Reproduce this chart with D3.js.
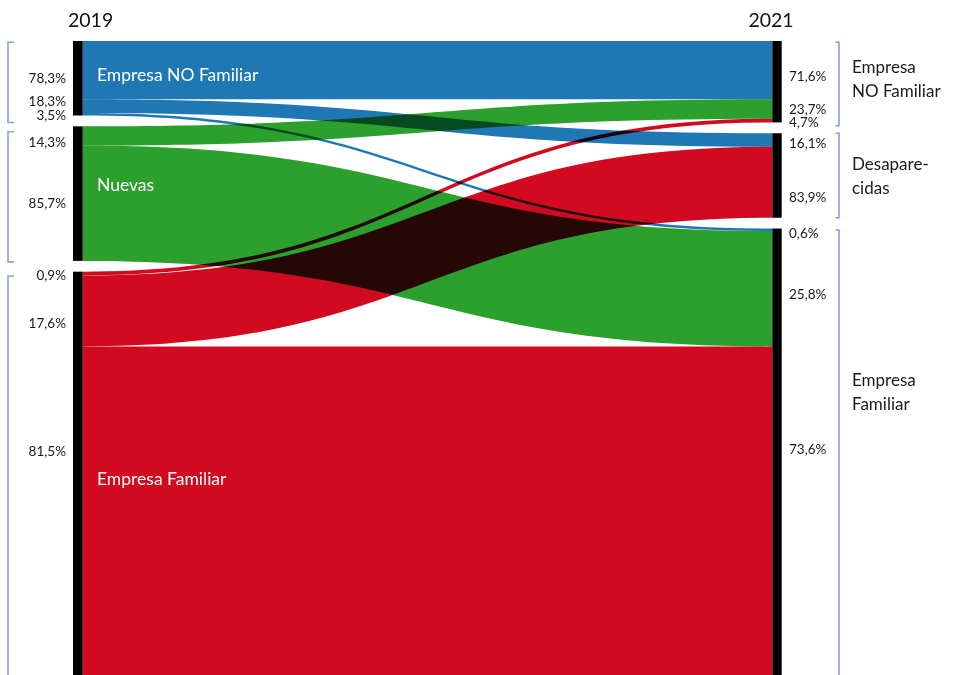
<!DOCTYPE html>
<html>
<head>
<meta charset="utf-8">
<script src="https://cdn.jsdelivr.net/npm/d3@7"></script>
<style>
  html, body { margin: 0; padding: 0; background: #fff; }
  svg { display: block; }
  .flow { mix-blend-mode: multiply; }
</style>
</head>
<body>
<div id="chart"></div>
<script>
// ---- data -------------------------------------------------------------
const years = ["2019", "2021"];
const leftNodes = ["Empresa NO Familiar", "Nuevas", "Empresa Familiar"];
const rightNodes = [["Empresa", "NO Familiar"], ["Desapare-", "cidas"], ["Empresa", "Familiar"]];
// each flow: source (2019 group) -> target (2021 group), number of companies
const flowSource = [0, 0, 0, 1, 1, 2, 2, 2];
const flowTarget = [0, 1, 2, 0, 2, 0, 1, 2];
const flowValue  = [7827, 1826, 347, 2590, 15470, 510, 9516, 44100];

// ---- styling / layout -------------------------------------------------
const W = 953, H = 675;
const plotTop = 41, plotBottom = 675, gap = 10.8;
const leftBar = { x: 73, w: 9.7 };
const rightBar = { x: 772.3, w: 9.4 };
const nodeColors = ["#1f77b4", "#2ca02c", "#d20a20"];
const bracketColor = "#7ea6dc";
const font = "Lato, 'Open Sans', sans-serif";
// vertical nudges (px) of the percentage labels, per flow
const leftLabelDy = [8, -4.5, 0.5, 5.7, 0, 2, 12, -60];
const rightLabelDy = [5.5, 3, 3, 0, 5, 1.5, 15, -62];
const innerLabelDy = [-4, -8.6, 5];
const groupLabelDy = [-3, 0, -60];
const leftBracketPad = [[1.3, 7], [5.4, 1], [4.3, 20]];
const rightBracketPad = [[1.3, 3.3], [0, 0], [1.5, 20]];

const links = flowValue.map((v, i) => ({ i, value: v, s: flowSource[i], t: flowTarget[i] }));
const total = d3.sum(flowValue);
const y = d3.scaleLinear().domain([0, total]).range([0, plotBottom - plotTop - 2 * gap]);

function buildNodes(count, key) {
  const nodes = d3.range(count).map(k => ({
    k, value: d3.sum(links.filter(l => l[key] === k), l => l.value)
  }));
  let acc = plotTop;
  nodes.forEach(n => { n.y0 = acc; n.y1 = acc + y(n.value); acc = n.y1 + gap; });
  return nodes;
}
const L = buildNodes(leftNodes.length, "s");
const R = buildNodes(rightNodes.length, "t");

// stack flows inside each node
L.forEach(n => {
  let acc = n.y0;
  links.filter(l => l.s === n.k).sort((a, b) => a.t - b.t)
    .forEach(l => { l.sy = acc; acc += y(l.value); });
});
R.forEach(n => {
  let acc = n.y0;
  links.filter(l => l.t === n.k).sort((a, b) => a.s - b.s)
    .forEach(l => { l.ty = acc; acc += y(l.value); });
});

const x0 = leftBar.x + leftBar.w, x1 = rightBar.x, xm = (x0 + x1) / 2;
function bandPath(l) {
  const w = y(l.value);
  const p = d3.path();
  p.moveTo(x0, l.sy);
  p.bezierCurveTo(xm, l.sy, xm, l.ty, x1, l.ty);
  p.lineTo(x1, l.ty + w);
  p.bezierCurveTo(xm, l.ty + w, xm, l.sy + w, x0, l.sy + w);
  p.closePath();
  return p.toString();
}

const fmt = v => d3.format(".1f")(v * 100).replace(".", ",") + "%";

// ---- drawing ----------------------------------------------------------
const svg = d3.select("#chart").append("svg")
  .attr("width", W).attr("height", H)
  .style("font-family", font);

svg.append("rect").attr("width", W).attr("height", H).attr("fill", "#fff");

svg.append("g").style("isolation", "isolate")
  .selectAll("path").data(links).join("path")
  .attr("class", "flow")
  .attr("d", bandPath)
  .attr("fill", l => nodeColors[l.s]);

// node bars
svg.append("g").selectAll("rect").data(L).join("rect")
  .attr("x", leftBar.x).attr("width", leftBar.w)
  .attr("y", n => n.y0).attr("height", n => n.y1 - n.y0).attr("fill", "#000");
svg.append("g").selectAll("rect").data(R).join("rect")
  .attr("x", rightBar.x).attr("width", rightBar.w)
  .attr("y", n => n.y0).attr("height", n => n.y1 - n.y0).attr("fill", "#000");

// year headers
svg.append("text").attr("x", leftBar.x - 5).attr("y", 27)
  .attr("font-size", 19.5).attr("fill", "#111").text(years[0]);
svg.append("text").attr("x", rightBar.x + rightBar.w + 12).attr("y", 27)
  .attr("text-anchor", "end").attr("font-size", 19.5).attr("fill", "#111").text(years[1]);

// percentage labels
svg.append("g").selectAll("text").data(links).join("text")
  .attr("x", 66).attr("text-anchor", "end")
  .attr("y", l => l.sy + y(l.value) / 2 + leftLabelDy[l.i])
  .attr("dy", "0.36em").attr("font-size", 13.5).attr("fill", "#1a1a1a")
  .text(l => fmt(l.value / L[l.s].value));
svg.append("g").selectAll("text").data(links).join("text")
  .attr("x", 789)
  .attr("y", l => l.ty + y(l.value) / 2 + rightLabelDy[l.i])
  .attr("dy", "0.36em").attr("font-size", 13.5).attr("fill", "#1a1a1a")
  .text(l => fmt(l.value / R[l.t].value));

// names inside the 2019 groups
svg.append("g").selectAll("text").data(L).join("text")
  .attr("x", 97)
  .attr("y", n => (n.y0 + n.y1) / 2 + innerLabelDy[n.k])
  .attr("dy", "0.36em").attr("font-size", 17.5).attr("fill", "#fff")
  .text(n => leftNodes[n.k]);

// brackets
svg.append("g").selectAll("path").data(L).join("path")
  .attr("fill", "none").attr("stroke", bracketColor).attr("stroke-width", 1.6)
  .attr("d", n => {
    const a = n.y0 + leftBracketPad[n.k][0], b = n.y1 + leftBracketPad[n.k][1];
    return `M14,${a}H8V${b}H14`;
  });
svg.append("g").selectAll("path").data(R).join("path")
  .attr("fill", "none").attr("stroke", bracketColor).attr("stroke-width", 1.6)
  .attr("d", n => {
    const a = n.y0 + rightBracketPad[n.k][0], b = n.y1 + rightBracketPad[n.k][1];
    return `M835.5,${a}H839V${b}H835.5`;
  });

// 2021 group names
const gl = svg.append("g").selectAll("text").data(R).join("text")
  .attr("x", 852).attr("font-size", 17).attr("fill", "#1a1a1a");
gl.each(function (n) {
  const c = (n.y0 + n.y1) / 2 + groupLabelDy[n.k];
  const lines = rightNodes[n.k];
  d3.select(this).selectAll("tspan").data(lines).join("tspan")
    .attr("x", 852)
    .attr("y", (d, j) => c + (j - (lines.length - 1) / 2) * 24)
    .attr("dy", "0.36em")
    .text(d => d);
});
</script>
</body>
</html>
